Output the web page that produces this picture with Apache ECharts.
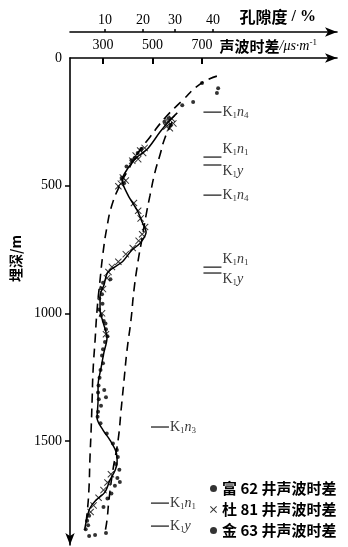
<!DOCTYPE html>
<html><head><meta charset="utf-8">
<script src="https://cdn.jsdelivr.net/npm/echarts@6/dist/echarts.min.js"></script>
<style>html,body{margin:0;padding:0;background:#fff}#c{width:348px;height:547px}</style>
</head><body><div id="c"></div>
<script>
// ---- data (sonic μs/m, depth m) ----
const sonicTicks = [300, 500, 700];
const porosityTicks = [10, 20, 30, 40];
const porosityAtSonic = [308, 462, 591, 744];
const depthTicks = [0, 500, 1000, 1500];

const fu62 = [[765,118],[760,137],[664,172],[700,98],[620,185],[565,236],[548,250],[572,262],[455,356],[440,372],[428,392],[415,400],[395,425],[375,470],[385,490],[300,880],[292,902],[296,925],[285,942],[298,962],[284,985],[292,1008],[303,1030],[312,1062],[318,1090],[308,1112],[300,1140],[296,1165],[300,1195],[290,1222],[286,1252],[282,1282],[280,1310],[283,1336],[292,1362],[280,1385],[278,1405]];
const du81 = [[578,238],[562,248],[584,256],[556,268],[570,275],[468,352],[450,362],[462,372],[432,382],[442,396],[418,402],[380,468],[392,480],[372,492],[362,502],[425,568],[442,598],[452,628],[470,662],[458,690],[444,716],[420,744],[392,768],[362,798],[336,818],[322,838],[316,862],[300,905],[296,1000],[312,1082],[332,1630],[318,1662],[302,1692],[282,1722],[262,1752],[250,1778]];
const jin63 = [[330,866],[310,1040],[305,1300],[312,1328],[290,1430],[315,1470],[340,1510],[356,1535],[360,1562],[352,1590],[366,1612],[358,1645],[348,1675],[368,1660],[334,1705],[318,1725],[302,1758],[244,1792],[236,1812],[240,1830],[230,1845],[268,1868],[244,1872],[312,1860]];

const trendLine = [[600,215],[571,243],[530,290],[482,353],[433,392],[401,431],[377,478],[401,537],[437,595],[458,642],[474,682],[450,725],[417,752],[377,799],[320,838],[304,889],[288,932],[288,987],[300,1034],[316,1097],[304,1152],[292,1214],[280,1281],[280,1340],[276,1410],[300,1457],[328,1496],[353,1543],[357,1582],[349,1614],[328,1653],[308,1700],[272,1731],[247,1763],[235,1802],[227,1841]];
const leftEnvelope = [[760,71],[692,102],[619,168],[550,235],[490,309],[441,372],[401,439],[369,497],[336,576],[316,662],[300,764],[288,870],[276,987],[268,1105],[260,1222],[256,1340],[252,1457],[247,1575],[243,1692],[235,1790],[227,1849]];
const rightEnvelope = [[579,251],[550,313],[530,380],[510,447],[490,537],[474,615],[458,705],[441,799],[425,909],[413,1026],[397,1144],[385,1261],[373,1379],[361,1496],[340,1614],[324,1731],[316,1810],[308,1857]];

const formationSub = ['n4','n1','y','n4','n1','y','n3','n1','y'];
const formationDepths = [212, 388, 419, 537, 819, 842, 1445, 1743, 1833];
const legendNames = ['富 62 井声波时差', '杜 81 井声波时差', '金 63 井声波时差'];

// ---- layout (not data) ----
const upperColX = 742, lowerColX = 530;
const labelDy = [0,-8,6,0,-8,6,0,0,0];
const formationData = formationDepths.map((d,i) => ({
  value: [i < 6 ? upperColX : lowerColX, d],
  label: { offset: [0, labelDy[i]] },
  sub: formationSub[i]
}));

const serif = 'Liberation Serif';
const cjk = 'Noto Sans CJK SC';
const crossPath = 'path://M0,1L1,0L5,4L9,0L10,1L6,5L10,9L9,10L5,6L1,10L0,9L4,5Z';

const chart = echarts.init(document.getElementById('c'), null, {renderer:'canvas'});
const lineStyle = {color:'#000', width:1.6};

chart.setOption({
  animation: false,
  backgroundColor: '#fff',
  grid: { left: 70, right: 11, top: 58, bottom: 2, containLabel: false, outerBoundsMode: 'none' },
  legend: {
    orient: 'vertical', left: 205, top: 476, itemGap: 6, itemWidth: 7, itemHeight: 7,
    data: [
      { name: legendNames[0], icon: 'circle' },
      { name: legendNames[1], icon: crossPath },
      { name: legendNames[2], icon: 'circle' }
    ],
    textStyle: { fontFamily: cjk, fontSize: 15, fontWeight: 'bold', color: '#000' }
  },
  xAxis: [
    {
      type: 'value', position: 'top', min: 166.7, max: 1245,
      axisLine: { show:true, lineStyle, symbol:['none','arrow'], symbolSize:[7,12] },
      axisTick: { show: true, inside: true, length: 6, lineStyle:{width:2,color:'#000'}, customValues: sonicTicks },
      axisLabel: { customValues: sonicTicks, margin: 6, fontFamily: serif, fontSize: 14, color:'#000', formatter: v => String(v) },
      splitLine: { show: false },
      name: '{c|声波时差}{u|/μs·m}{p|-1}', nameLocation: 'middle', nameGap: 12, nameMoveOverlap: false,
      nameTextStyle: { align: 'left', verticalAlign: 'middle', padding: [0,0,0,16],
        rich: { c:{fontFamily:cjk, fontSize:15, fontWeight:'bold', color:'#000'},
                u:{fontFamily:serif, fontSize:14, fontStyle:'italic', color:'#000'},
                p:{fontFamily:serif, fontSize:9, color:'#000', verticalAlign:'top', padding:[0,0,6,0]} } }
    },
    {
      type: 'value', position: 'top', offset: 26, min: 166.7, max: 1245,
      axisLine: { show:true, lineStyle, symbol:['none','arrow'], symbolSize:[7,12] },
      axisTick: { show: true, length: 3, lineStyle:{width:1.5,color:'#000'}, customValues: porosityAtSonic },
      axisLabel: { customValues: porosityAtSonic, margin: 5, fontFamily: serif, fontSize: 14, color:'#000',
        formatter: v => { const i = porosityAtSonic.indexOf(v); return i >= 0 ? String(porosityTicks[i]) : ''; } },
      splitLine: { show: false },
      name: '{c|孔隙度}{u| / %}', nameLocation: 'middle', nameGap: 15, nameMoveOverlap: false,
      nameTextStyle: { align: 'left', verticalAlign: 'middle', padding: [0,0,0,36],
        rich: { c:{fontFamily:cjk, fontSize:16, fontWeight:'bold', color:'#000'},
                u:{fontFamily:serif, fontSize:16, fontWeight:'bold', color:'#000'} } }
    }
  ],
  yAxis: {
    type: 'value', inverse: true, min: 0, max: 1907,
    axisLine: { show:true, lineStyle, symbol:['arrow','none'], symbolSize:[7,12] },
    axisTick: { show: true, length: 5, lineStyle:{width:1.5,color:'#000'}, customValues: depthTicks.slice(1) },
    axisLabel: { customValues: depthTicks, margin: 8, fontFamily: serif, fontSize: 14, color:'#000', formatter: v => String(v) },
    splitLine: { show: false },
    name: '埋深/m', nameLocation: 'middle', nameGap: 46, nameRotate: 90,
    nameTextStyle: { fontFamily: cjk, fontSize: 14, fontWeight: 'bold', color: '#000', padding: [0,0,0,86] }
  },
  series: [
    { type:'line', data: leftEnvelope, smooth: true, symbol:'none', silent:true,
      lineStyle:{ color:'#000', width:1.6, type:[9,6] } },
    { type:'line', data: rightEnvelope, smooth: true, symbol:'none', silent:true,
      lineStyle:{ color:'#000', width:1.6, type:[9,6] } },
    { type:'line', data: trendLine, smooth: 0.3, symbol:'none', silent:true,
      lineStyle:{ color:'#000', width:1.5 } },
    { name: legendNames[0], type:'scatter', data: fu62, symbol:'circle', symbolSize: 4,
      itemStyle:{ color:'#000' } },
    { name: legendNames[1], type:'scatter', data: du81, symbol: crossPath, symbolSize: 7,
      itemStyle:{ color:'#000' } },
    { name: legendNames[2], type:'scatter', data: jin63, symbol:'circle', symbolSize: 4,
      itemStyle:{ color:'#000' } },
    { type:'scatter', data: formationData, symbol:'rect', symbolSize:[18,1.4], silent:true,
      itemStyle:{ color:'#000' },
      label: { show:true, position:'right', distance:1,
        formatter: p => { const s = p.data.sub; return s[0] === 'y' ? '{k|K}{s|1}{n|y}' : '{k|K}{s|1}{n|n}{s|' + s[1] + '}'; },
        rich: { k:{fontFamily:serif, fontSize:14, color:'#000', lineHeight:16},
                n:{fontFamily:serif, fontSize:14, fontStyle:'italic', color:'#000', lineHeight:16},
                s:{fontFamily:serif, fontSize:9, color:'#000', lineHeight:16, verticalAlign:'bottom', padding:[5,0,0,0]} } } }
  ]
});
</script>
</body></html>
